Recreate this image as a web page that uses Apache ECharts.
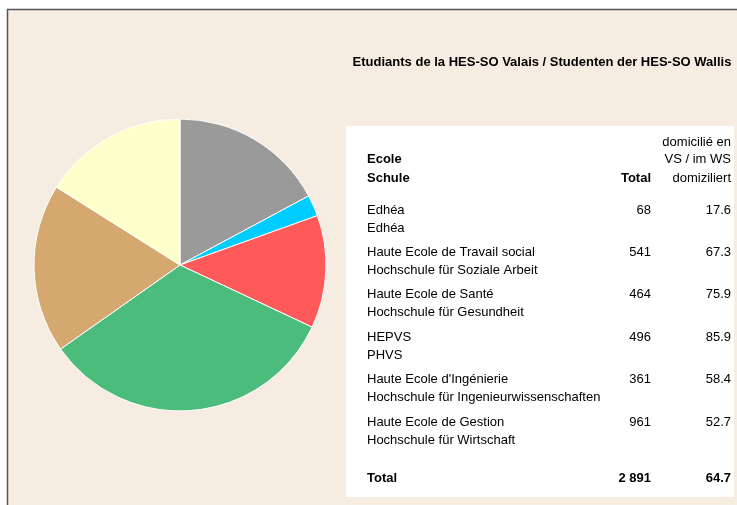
<html lang="de">
  <head>
    <meta charset="UTF-8" />
    <title>HES-SO Valais</title>
    <style>
      html, body { margin: 0; padding: 0; background: #fff; }
      #main { width: 737px; height: 505px; }
    </style>
  </head>
  <body>
    <div id="main"></div>

    <script src="https://cdn.jsdelivr.net/npm/echarts@6/dist/echarts.min.js"></script>
    <script>
      // Tabellendaten
      const schoolsFr = ['Edhéa', 'Haute Ecole de Travail social', 'Haute Ecole de Santé', 'HEPVS', "Haute Ecole d'Ingénierie", 'Haute Ecole de Gestion']
      const schoolsDe = ['Edhéa', 'Hochschule für Soziale Arbeit', 'Hochschule für Gesundheit', 'PHVS', 'Hochschule für Ingenieurwissenschaften', 'Hochschule für Wirtschaft']
      const totals = [68, 541, 464, 496, 361, 961]
      const domicile = [17.6, 67.3, 75.9, 85.9, 58.4, 52.7]
      const grandTotal = 2891
      const grandDomicile = 64.7

      // Reihenfolge der Segmente im Kuchen (im Uhrzeigersinn ab 12 Uhr) + Farben
      const sliceOrder = [3, 0, 4, 5, 1, 2]
      const sliceColors = ['#9a9a9a', '#00ccff', '#ff5a5a', '#4cbc7c', '#d4a86f', '#ffffcc']

      const titleText = 'Etudiants de la HES-SO Valais / Studenten der HES-SO Wallis'

      let mCharts = echarts.init(document.querySelector('#main'), null, { renderer: 'canvas' })

      const font = '"Liberation Sans", Arial, sans-serif'
      const fmt = (n) => String(n).replace(/\B(?=(\d{3})+(?!\d))/g, ' ')

      function txt(x, y, s, align, bold) {
        return {
          type: 'text',
          x: x,
          y: y,
          z: 10,
          style: {
            text: s,
            fill: '#000',
            font: (bold ? 'bold ' : '') + '13px ' + font,
            textAlign: align || 'left',
            textVerticalAlign: 'middle'
          }
        }
      }

      let graphics = [
        // Rahmen / Hintergrund
        {
          type: 'rect',
          z: 0,
          shape: { x: 7.5, y: 9.5, width: 740, height: 510 },
          style: { fill: '#f6ece2', stroke: '#555', lineWidth: 1.5 }
        },
        // weisse Tabelle
        {
          type: 'rect',
          z: 1,
          shape: { x: 346, y: 126, width: 388, height: 371 },
          style: { fill: '#fff' }
        },
        txt(542, 62, titleText, 'center', true),
        txt(731, 142, 'domicilié en', 'right'),
        txt(731, 159, 'VS / im WS', 'right'),
        txt(731, 178, 'domiziliert', 'right'),
        txt(367, 159, 'Ecole', 'left', true),
        txt(367, 178, 'Schule', 'left', true),
        txt(651, 178, 'Total', 'right', true)
      ]

      const rowY0 = 210
      const rowStep = 42.4
      schoolsFr.forEach((name, i) => {
        let y = rowY0 + i * rowStep
        graphics.push(txt(367, y, name, 'left'))
        graphics.push(txt(367, y + 18, schoolsDe[i], 'left'))
        graphics.push(txt(651, y, fmt(totals[i]), 'right'))
        graphics.push(txt(731, y, domicile[i].toFixed(1), 'right'))
      })
      graphics.push(txt(367, 478, 'Total', 'left', true))
      graphics.push(txt(651, 478, fmt(grandTotal), 'right', true))
      graphics.push(txt(731, 478, grandDomicile.toFixed(1), 'right', true))

      let pieData = sliceOrder.map((idx, k) => ({
        name: schoolsFr[idx],
        value: totals[idx],
        itemStyle: { color: sliceColors[k] }
      }))

      let option = {
        backgroundColor: '#fff',
        animation: false,
        graphic: graphics,
        series: [
          {
            type: 'pie',
            z: 5,
            center: [180, 265],
            radius: 146,
            startAngle: 90,
            clockwise: true,
            label: { show: false },
            labelLine: { show: false },
            emphasis: { disabled: true },
            itemStyle: { borderColor: '#fff', borderWidth: 1 },
            data: pieData
          }
        ]
      }
      mCharts.setOption(option)
    </script>
  </body>
</html>
